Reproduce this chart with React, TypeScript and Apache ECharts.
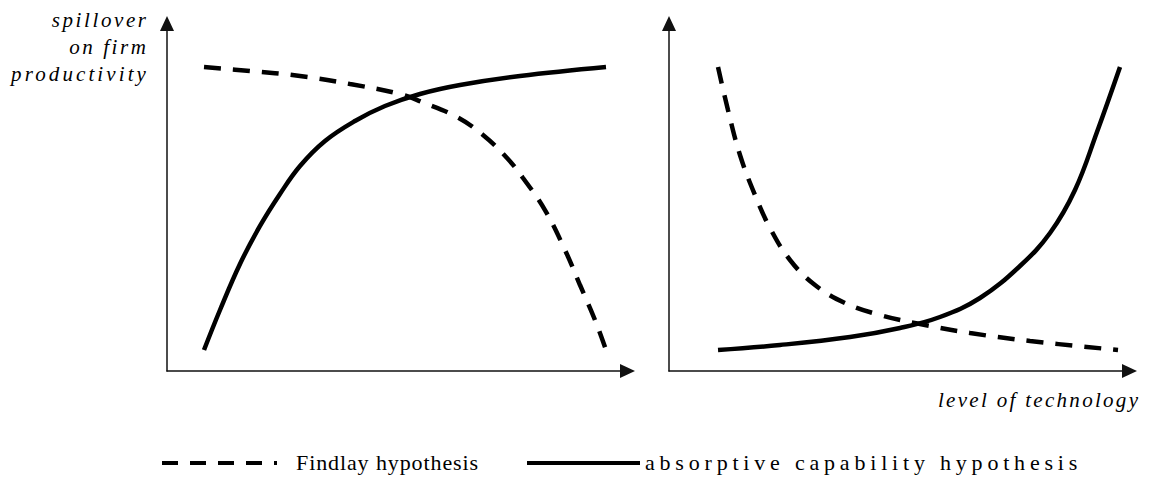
import React, { useEffect, useRef } from 'react';
import * as echarts from 'echarts';

// [x, y] on a 0–100 scale in each panel
const leftFindlay: number[][] = [
  [8.17, 89.41], [18.32, 88.24], [29.36, 86.76], [40.4, 84.41], [51.43, 81.47], [56.29, 79.12],
  [64.02, 74.71], [69.76, 69.41], [75.06, 62.65], [78.59, 56.76], [83.44, 47.35], [87.86, 35.59],
  [91.17, 25.29], [94.48, 15.0], [96.91, 6.18],
];
const leftAbsorptive: number[][] = [
  [8.17, 6.18], [11.7, 17.94], [16.11, 31.47], [20.53, 42.65], [24.94, 52.06], [29.36, 60.29],
  [34.88, 67.65], [41.5, 73.53], [48.12, 77.94], [55.85, 81.47], [64.68, 84.12], [77.92, 86.76],
  [96.91, 89.41],
];
const rightFindlay: number[][] = [
  [10.82, 89.41], [13.02, 76.76], [15.67, 63.53], [18.98, 51.76], [22.3, 42.06], [26.71, 32.65],
  [32.23, 25.29], [38.85, 20.0], [46.58, 16.47], [55.41, 13.82], [66.45, 11.18], [79.69, 8.82],
  [99.12, 6.18],
];
const rightAbsorptive: number[][] = [
  [10.82, 6.18], [24.5, 7.65], [39.96, 10.0], [51.0, 12.65], [59.82, 15.88], [68.65, 21.47],
  [77.48, 30.88], [84.11, 40.59], [89.62, 53.24], [94.48, 70.29], [99.56, 89.41],
];

const yTitleLines = ['spillover', 'on firm', 'productivity'];
const xTitle = 'level of technology';
const legendNames = ['Findlay hypothesis', 'absorptive capability hypothesis'];

const letterSpacing: Record<string, number> = {
  spillover: 2.6,
  'on firm': 2.6,
  productivity: 3.1,
  'level of technology': 2.3,
  'Findlay hypothesis': 0.9,
  'absorptive capability hypothesis': 4.8,
};

const FONT = 'Liberation Serif';

export default function App() {
  const ref = useRef<HTMLDivElement>(null);

  useEffect(() => {
    const el = ref.current!;
    const chart = echarts.init(el, undefined, { renderer: 'svg' });

    const axisLine = {
      show: true,
      onZero: false,
      symbol: ['none', 'triangle'],
      symbolSize: [14, 15],
      symbolOffset: [0, 7.5],
      lineStyle: { color: '#111', width: 1.5 },
    };
    const mkAxis = (gridIndex: number) => ({
      type: 'value',
      gridIndex,
      min: 0,
      max: 100,
      axisLine,
      axisTick: { show: false },
      axisLabel: { show: false },
      splitLine: { show: false },
    });

    const dashed = { color: '#000', width: 4.5, type: [17, 12], cap: 'butt' };
    const solid = { color: '#000', width: 4.5, type: 'solid' };
    const mkSeries = (name: string, data: number[][], idx: number, ls: any) => ({
      type: 'line',
      name,
      data,
      xAxisIndex: idx,
      yAxisIndex: idx,
      smooth: 0.4,
      showSymbol: false,
      symbol: 'none',
      lineStyle: ls,
      silent: true,
    });

    const txt = (text: string, x: number, y: number, align: string, italic: boolean, size: number) => ({
      type: 'text',
      x,
      y,
      silent: true,
      style: {
        text,
        fill: '#000',
        fontSize: size,
        fontFamily: FONT,
        fontStyle: italic ? 'italic' : 'normal',
        align,
        verticalAlign: 'middle',
      },
    });

    const option: any = {
      animation: false,
      backgroundColor: '#fff',
      grid: [
        { left: 167, top: 31, width: 453, height: 340 },
        { left: 669, top: 31, width: 453, height: 340 },
      ],
      xAxis: [mkAxis(0), mkAxis(1)],
      yAxis: [mkAxis(0), mkAxis(1)],
      series: [
        mkSeries(legendNames[0], leftFindlay, 0, dashed),
        mkSeries(legendNames[1], leftAbsorptive, 0, solid),
        mkSeries(legendNames[0] + ' ', rightFindlay, 1, dashed),
        mkSeries(legendNames[1] + ' ', rightAbsorptive, 1, solid),
      ],
      graphic: [
        txt(yTitleLines[0], 148.6, 20, 'right', true, 21),
        txt(yTitleLines[1], 148.6, 47, 'right', true, 21),
        txt(yTitleLines[2], 149, 74, 'right', true, 21),
        txt(xTitle, 1140.3, 400, 'right', true, 21),
        {
          type: 'line',
          silent: true,
          shape: { x1: 162, y1: 463, x2: 277, y2: 463 },
          style: { stroke: '#000', lineWidth: 4, lineDash: [16, 12] },
        },
        txt(legendNames[0], 296, 462.5, 'left', false, 22),
        {
          type: 'line',
          silent: true,
          shape: { x1: 527, y1: 463, x2: 640, y2: 463 },
          style: { stroke: '#000', lineWidth: 4 },
        },
        txt(legendNames[1], 645, 462.5, 'left', false, 22),
      ],
    };

    const applySpacing = () => {
      el.querySelectorAll('text').forEach((t) => {
        const s = letterSpacing[(t.textContent || '').trim()];
        if (s !== undefined) (t as any).style.letterSpacing = s + 'px';
      });
    };
    chart.on('finished', applySpacing);
    chart.setOption(option);
    applySpacing();
    const timer = setTimeout(applySpacing, 50);

    return () => {
      clearTimeout(timer);
      chart.dispose();
    };
  }, []);

  return (
    <div
      ref={ref}
      style={{ position: 'fixed', left: 0, top: 0, width: 1150, height: 479, background: '#fff' }}
    />
  );
}
